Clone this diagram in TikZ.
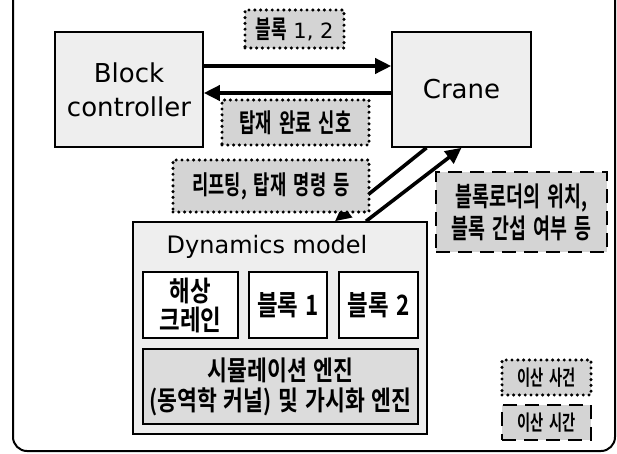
\documentclass[tikz,border=0pt]{standalone}
\usepackage{fontspec}
\setmainfont{DejaVu Sans}
% narrow and wide cuts of the Korean face
\newfontfamily\kr[FakeStretch=0.68,WordSpace=1.8]{Noto Sans CJK KR Bold}
\newfontfamily\krw[FakeStretch=0.8,WordSpace=1.4]{Noto Sans CJK KR Bold}
\usetikzlibrary{arrows.meta}

\definecolor{boxgray}{HTML}{EEEEEE}
\definecolor{taggray}{HTML}{D4D4D4}
\definecolor{enggray}{HTML}{DCDCDC}

\tikzset{
  greybox/.style={draw,fill=boxgray,line width=1.6pt,inner sep=0pt,align=center},
  whitebox/.style={draw,fill=white,line width=1.6pt,inner sep=0pt,align=center},
  tagdot/.style={draw,fill=taggray,line width=3.4pt,line cap=round,
    dash pattern=on 0pt off 5.8pt,inner sep=0pt,align=center},
  tagdash/.style={draw,fill=taggray,line width=2.4pt,
    dash pattern=on 14pt off 8pt,inner sep=0pt,align=center},
  flow/.style={line width=3.6pt,-{Triangle[length=16pt,width=15pt]}}
}

\begin{document}
\begin{tikzpicture}[x=1pt,y=-1pt]

    \useasboundingbox (0,0) rectangle (617,453);
    % outer frame, top edge runs off the page
    \draw[line width=2pt,rounded corners=14pt] (13,0) -- (13,451) -- (615,451) -- (615,0);

    % controller and crane
    \node[greybox,minimum width=148pt,minimum height=115pt,font=\fontsize{26}{34}\selectfont]
        (ctrl) at (129,89.5) {Block\\controller};
    \node[greybox,minimum width=139pt,minimum height=115pt,font=\fontsize{26}{34}\selectfont]
        (crane) at (461.5,89.5) {Crane};

    % dynamics model with its parts
    \node[greybox,minimum width=294pt,minimum height=212pt] (dyn) at (280,328) {};
    \node[font=\fontsize{24}{28}\selectfont] (dyntitle) at (267,247) {Dynamics model};
    \node[whitebox,minimum width=95pt,minimum height=66pt,font=\krw\fontsize{28}{29}\selectfont]
        (seacrane) at (190.5,305) {해상\\크레인};
    \node[whitebox,minimum width=78pt,minimum height=66pt,font=\krw\fontsize{28}{29}\selectfont]
        (blk1) at (288,305) {블록 1};
    \node[whitebox,minimum width=79pt,minimum height=66pt,font=\krw\fontsize{28}{29}\selectfont]
        (blk2) at (378.5,305) {블록 2};
    \node[draw,fill=enggray,line width=1.6pt,minimum width=275pt,minimum height=75pt,
        inner sep=0pt,align=center,font=\krw\fontsize{27}{30}\selectfont]
        (engine) at (280.5,386.5) {시뮬레이션 엔진\\(동역학 커널) 및 가시화 엔진};

    % messages
    \draw[flow] ([yshift=23.5pt]ctrl.east) -- ([yshift=23.5pt]crane.west);
    \draw[flow] ([yshift=-3.5pt]crane.west) -- ([yshift=-3.5pt]ctrl.east);
    \draw[flow] ([xshift=-35pt]crane.south) -- ([xshift=55pt]dyn.north);
    \draw[flow] ([xshift=86pt]dyn.north) -- ([xshift=0pt]crane.south);

    \node[tagdot,minimum width=99pt,minimum height=38pt,font=\fontsize{21}{24}\selectfont]
        (tagblk) at (294.5,29) {{\kr\fontsize{25}{24}\selectfont 블록} 1, 2};
    \node[tagdot,minimum width=147pt,minimum height=45pt,font=\kr\fontsize{26}{28}\selectfont]
        (tagdone) at (295.5,122.5) {탑재 완료 신호};
    \node[tagdot,minimum width=196pt,minimum height=52pt,font=\kr\fontsize{26}{28}\selectfont]
        (taglift) at (271,186) {리프팅, 탑재 명령 등};
    \node[tagdash,minimum width=171pt,minimum height=80pt,font=\kr\fontsize{27}{32}\selectfont]
        (tagpos) at (521.5,212) {블록로더의 위치,\\블록 간섭 여부 등};

    % legend
    \node[tagdot,minimum width=89pt,minimum height=35pt,font=\kr\fontsize{21}{22}\selectfont]
        (evdot) at (546.5,377.5) {이산 사건};
    \node[tagdash,minimum width=89pt,minimum height=35pt,font=\kr\fontsize{21}{22}\selectfont]
        (tmdash) at (546.5,422.5) {이산 시간};
\end{tikzpicture}
\end{document}
